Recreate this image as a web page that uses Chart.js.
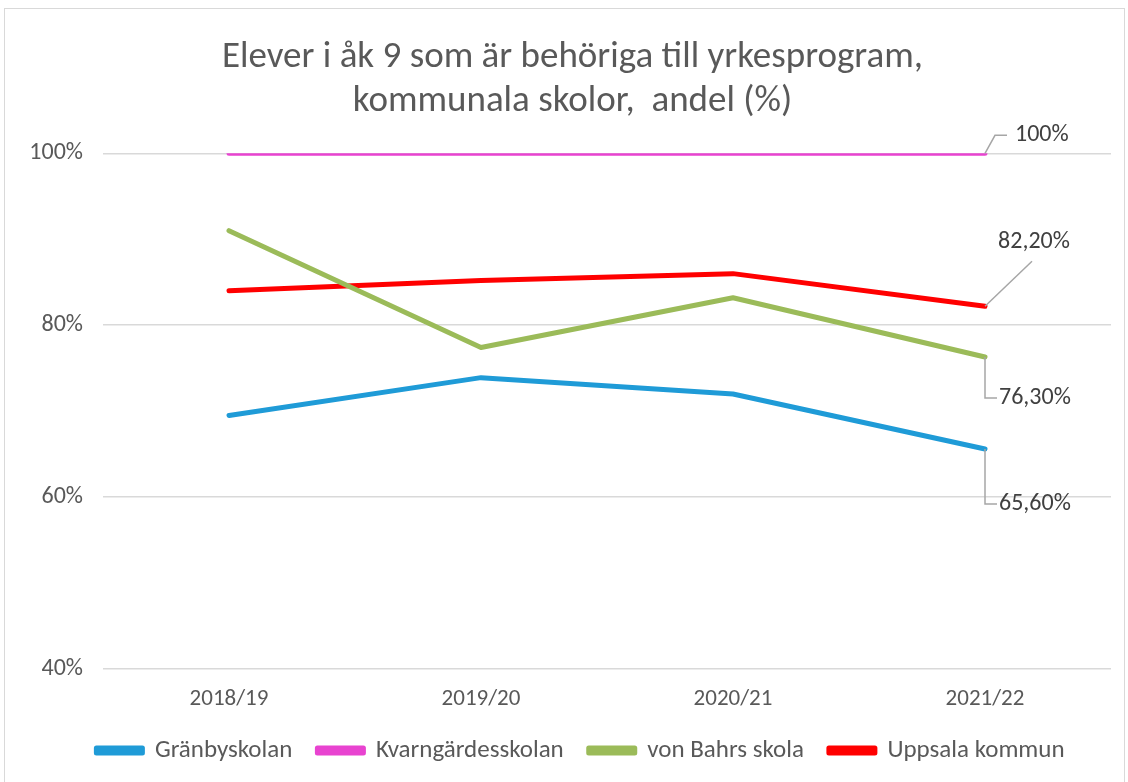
<!DOCTYPE html>
<html>
<head>
<meta charset="utf-8">
<script src="https://cdn.jsdelivr.net/npm/chart.js@4.4.1/dist/chart.umd.min.js"></script>
<style>
  html, body { margin: 0; padding: 0; background: #fff; }
  #wrap { position: absolute; left: 0; top: 0; width: 1128px; height: 782px; }
  #frame { position: absolute; left: 4px; top: 8px; width: 1121px; height: 780px; border: 1px solid #d9d9d9; box-sizing: border-box; }
  canvas { position: absolute; left: 0; top: 0; }
</style>
</head>
<body>
<div id="wrap">
  <div id="frame"></div>
  <canvas id="chart" width="1128" height="782"></canvas>
</div>
<script>
// Elever i åk 9 behöriga till yrkesprogram
const years = ['2018/19', '2019/20', '2020/21', '2021/22'];
const granby = [69.5, 73.9, 72.0, 65.6];
const kvarngarde = [100, 100, 100, 100];
const vonBahrs = [91.0, 77.4, 83.2, 76.3];
const uppsala = [84.0, 85.2, 86.0, 82.2];
const yTicks = [40, 60, 80, 100];

const FONT = 'Carlito, "Liberation Sans Narrow", "Open Sans", sans-serif';
const textColor = '#595959';

function pct(v) {
    return v === 100 ? '100%' : v.toFixed(2).replace('.', ',') + '%';
}

// leader lines + labels on the last point (offsets are styling only)
const labelStyle = [
    { path: [[0, 0], [0, 55], [12, 55]], tx: 14, ty: 55, align: 'left' },
    { path: [[0, 0], [10, -18], [22, -18]], tx: 30, ty: -18, align: 'left' },
    { path: [[0, 0], [0, 41], [12, 41]], tx: 14, ty: 41, align: 'left' },
    { path: [[0, 0], [47, -45]], tx: 49, ty: -64, align: 'center' }
];

const endLabels = {
    id: 'endLabels',
    afterDatasetsDraw(chart) {
        const ctx = chart.ctx;
        chart.data.datasets.forEach((ds, i) => {
            const meta = chart.getDatasetMeta(i);
            const last = meta.data[meta.data.length - 1];
            const st = labelStyle[i];
            ctx.save();
            ctx.strokeStyle = '#a6a6a6';
            ctx.lineWidth = 1.5;
            ctx.beginPath();
            st.path.forEach((p, k) => {
                if (k === 0) ctx.moveTo(last.x + p[0], last.y + p[1]);
                else ctx.lineTo(last.x + p[0], last.y + p[1]);
            });
            ctx.stroke();
            ctx.fillStyle = '#404040';
            ctx.font = '24px ' + FONT;
            ctx.textAlign = st.align;
            ctx.textBaseline = 'middle';
            ctx.fillText(pct(ds.data[ds.data.length - 1]), last.x + st.tx, last.y + st.ty);
            ctx.restore();
        });
    }
};

// nudge title and legend a little to the right, like the original
const nudge = {
    id: 'nudge',
    afterLayout(chart) {
        chart.titleBlock.left += 7;
        chart.titleBlock.right += 7;
        chart.legend.left += 15;
        chart.legend.right += 15;
    }
};

function series(label, data, color) {
    return {
        label: label,
        data: data,
        borderColor: color,
        backgroundColor: color,
        borderWidth: 5,
        borderCapStyle: 'round',
        borderJoinStyle: 'round',
        pointRadius: 0,
        tension: 0
    };
}

new Chart(document.getElementById('chart'), {
    type: 'line',
    data: {
        labels: years,
        datasets: [
            series('Gränbyskolan', granby, '#1f9bd7'),
            series('Kvarngärdesskolan', kvarngarde, '#e843d0'),
            series('von Bahrs skola', vonBahrs, '#9bbb59'),
            series('Uppsala kommun', uppsala, '#ff0000')
        ]
    },
    options: {
        responsive: false,
        animation: false,
        layout: { padding: { left: 20, right: 17, top: 36, bottom: 9 } },
        plugins: {
            title: {
                display: true,
                text: ['Elever i åk 9 som är behöriga till yrkesprogram,', 'kommunala skolor,  andel (%)'],
                color: textColor,
                font: { family: FONT, size: 37, weight: 'normal', lineHeight: 1.18 },
                padding: { top: 0, bottom: 30 }
            },
            legend: {
                position: 'bottom',
                labels: {
                    color: textColor,
                    font: { family: FONT, size: 25 },
                    boxWidth: 46,
                    boxHeight: 5,
                    padding: 25
                }
            },
            tooltip: { enabled: false }
        },
        scales: {
            x: {
                offset: true,
                grid: { display: false },
                border: { display: false },
                afterFit: (scale) => { scale.height = 44; },
                ticks: { color: textColor, font: { family: FONT, size: 23 }, padding: 8 }
            },
            y: {
                min: 40,
                max: 100,
                afterBuildTicks: (scale) => { scale.ticks = yTicks.map(v => ({ value: v })); },
                afterFit: (scale) => { scale.width = 83; },
                grid: { color: '#d9d9d9', lineWidth: 1.5, drawTicks: false },
                border: { display: false },
                ticks: {
                    color: textColor,
                    font: { family: FONT, size: 24 },
                    padding: 20,
                    callback: (v) => v + '%'
                }
            }
        }
    },
    plugins: [endLabels, nudge]
});
</script>
</body>
</html>
